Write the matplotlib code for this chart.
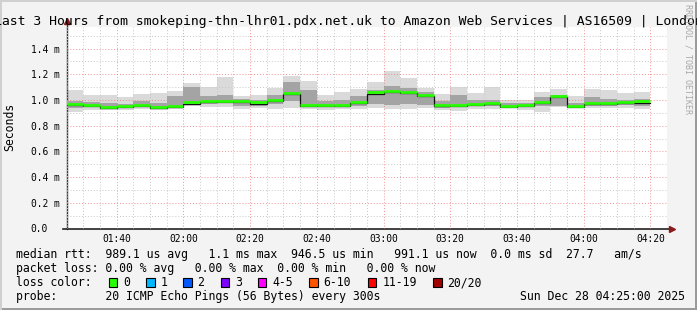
import matplotlib
matplotlib.use('Agg')
import matplotlib.pyplot as plt
import matplotlib.dates as mdates
from matplotlib.patches import Rectangle
from matplotlib.lines import Line2D
import numpy as np
import pandas as pd

# 5 minute steps starting 01:25, values in ms
median = [0.969, 0.963, 0.948, 0.956, 0.963, 0.948, 0.956, 0.982, 0.995, 0.995,
          0.993, 0.982, 1.000, 1.057, 0.963, 0.963, 0.963, 0.984, 1.060, 1.073,
          1.062, 1.040, 0.963, 0.963, 0.971, 0.976, 0.953, 0.963, 0.984, 1.034,
          0.953, 0.976, 0.976, 0.984, 0.991]
ping_min = [0.909, 0.922, 0.920, 0.920, 0.927, 0.922, 0.930, 0.953, 0.943, 0.943,
            0.927, 0.935, 0.927, 0.935, 0.927, 0.920, 0.927, 0.932, 0.935, 0.927,
            0.927, 0.935, 0.920, 0.917, 0.927, 0.932, 0.935, 0.920, 0.909, 0.948,
            0.935, 0.935, 0.935, 0.940, 0.927]
ping_lo = [0.940, 0.945, 0.935, 0.940, 0.945, 0.935, 0.945, 0.965, 0.970, 0.975,
           0.950, 0.955, 0.965, 0.990, 0.950, 0.945, 0.945, 0.955, 0.970, 0.960,
           0.965, 0.960, 0.940, 0.945, 0.950, 0.950, 0.945, 0.945, 0.950, 0.950,
           0.945, 0.950, 0.950, 0.960, 0.955]
ping_hi = [0.990, 0.985, 0.975, 0.970, 0.990, 0.975, 1.030, 1.100, 1.030, 1.040,
           1.010, 1.000, 1.040, 1.140, 1.080, 0.990, 1.000, 1.030, 1.080, 1.110,
           1.090, 1.060, 0.990, 1.040, 1.000, 1.000, 0.975, 0.980, 1.020, 1.040,
           0.975, 1.020, 1.010, 1.000, 1.010]
ping_max = [1.078, 1.039, 1.039, 1.020, 1.047, 1.054, 1.070, 1.130, 1.099, 1.177,
            1.031, 1.040, 1.090, 1.187, 1.148, 1.040, 1.062, 1.086, 1.138, 1.226,
            1.169, 1.090, 1.047, 1.104, 1.057, 1.099, 1.000, 1.000, 1.062, 1.086,
            1.031, 1.086, 1.078, 1.052, 1.060]

loss_labels = ['0', '1', '2', '3', '4-5', '6-10', '11-19', '20/20']
loss_colors = ['#26ff00', '#00b8ff', '#0059ff', '#7e00ff', '#ff00ff', '#ff5500', '#ff0000', '#a10000']

title = 'Last 3 Hours from smokeping-thn-lhr01.pdx.net.uk to Amazon Web Services | AS16509 | London'
row_rtt = 'median rtt:  989.1 us avg   1.1 ms max  946.5 us min   991.1 us now  0.0 ms sd  27.7   am/s'
row_loss = 'packet loss: 0.00 % avg   0.00 % max  0.00 % min   0.00 % now'
row_probe = 'probe:       20 ICMP Echo Pings (56 Bytes) every 300s'
stamp = 'Sun Dec 28 04:25:00 2025'

W, H = 697, 310
MONO = 'DejaVu Sans Mono'


def fx(px):
    return px / W


def fy(py):
    return 1 - py / H


fig = plt.figure(figsize=(W / 100, H / 100), dpi=100, facecolor='#f3f3f3')
ax = fig.add_axes([fx(66.7), fy(228.5), (667 - 66.7) / W, (228.5 - 27) / H])
ax.set_facecolor('white')

edges = pd.date_range('2025-12-28 01:25', periods=len(median) + 1, freq='5min')
x = mdates.date2num(edges.to_pydatetime())


def ext(v):
    return np.append(v, v[-1])


# smoke
ax.fill_between(x, ext(ping_min), ext(ping_max), step='post', color='#dadada', lw=0, zorder=2)
ax.fill_between(x, ext(ping_lo), ext(ping_hi), step='post', color='#a4a4a4', lw=0, zorder=3)

# median line: black step + green loss colour
med = np.array(median)
ax.step(x, ext(med - 0.011), where='post', color='#111111', lw=0.9, zorder=4)
ax.hlines(med, x[:-1], x[1:], color=loss_colors[0], lw=2.0, zorder=5)

ax.set_xlim(mdates.date2num(pd.Timestamp('2025-12-28 01:25')),
            mdates.date2num(pd.Timestamp('2025-12-28 04:25')))
ax.set_ylim(0, 1.568)

ax.xaxis.set_major_locator(mdates.MinuteLocator(byminute=[0, 20, 40]))
ax.xaxis.set_minor_locator(mdates.MinuteLocator(byminute=range(0, 60, 5)))
ax.xaxis.set_major_formatter(mdates.DateFormatter('%H:%M'))
yt = np.arange(0, 1.41, 0.2)
ax.set_yticks(yt)
ax.set_yticks(np.arange(0, 1.56, 0.1), minor=True)
ax.set_yticklabels(['0.0'] + ['%.1f m' % v for v in yt[1:]])

ax.tick_params(which='both', length=0)
ax.tick_params(axis='x', pad=4, labelsize=6.9)
ax.tick_params(axis='y', pad=26, labelsize=6.9)
for lab in ax.get_yticklabels():
    lab.set_horizontalalignment('left')
for lab in ax.get_xticklabels() + ax.get_yticklabels():
    lab.set_family(MONO)

ax.grid(which='minor', color='#c8c8c8', linestyle=(0, (1, 2)), lw=0.7, zorder=6)
ax.grid(which='major', color='#f07878', linestyle=(0, (1, 2)), lw=0.7, alpha=0.8, zorder=6)
ax.set_axisbelow(False)

for s in ax.spines.values():
    s.set_visible(False)

# axes with arrows (rrdtool style)
ax.add_line(Line2D([0, 0], [0, 1 + 5 / 201.5], transform=ax.transAxes, color='#333333', lw=1, clip_on=False))
ax.add_line(Line2D([-4 / 600, 1 + 3 / 600], [0, 0], transform=ax.transAxes, color='#222222', lw=1.2, clip_on=False))
ax.plot([0], [1 + 6 / 201.5], marker='^', ms=4.5, color='#8b1a1a', transform=ax.transAxes, clip_on=False)
ax.plot([1 + 5 / 600], [0], marker='>', ms=4.5, color='#8b1a1a', transform=ax.transAxes, clip_on=False)

fig.text(fx(10), fy(127), 'Seconds', rotation=90, ha='center', va='center', fontsize=8.3, family=MONO)
fig.text(fx(348.5), fy(24.5), title, ha='center', va='baseline', fontsize=9.45, family=MONO)
fig.text(fx(688), fy(4), 'RRDTOOL / TOBI OETIKER', rotation=270, ha='center', va='top',
         fontsize=6, family=MONO, color='#a8a8a8')

# legend rows
fig.text(fx(16), fy(258.3), row_rtt, ha='left', va='baseline', fontsize=8.3, family=MONO)
fig.text(fx(16), fy(272.3), row_loss, ha='left', va='baseline', fontsize=8.3, family=MONO)
fig.text(fx(16), fy(286.3), 'loss color:', ha='left', va='baseline', fontsize=8.3, family=MONO)
fig.text(fx(16), fy(300.3), row_probe, ha='left', va='baseline', fontsize=8.3, family=MONO)
fig.text(fx(685), fy(300.3), stamp, ha='right', va='baseline', fontsize=8.3, family=MONO)

box_x = [108.5, 146, 183, 220.5, 257.5, 309, 367.7, 433]
for bx, lab, col in zip(box_x, loss_labels, loss_colors):
    fig.add_artist(Rectangle((fx(bx), fy(286.5)), 8.5 / W, 8.5 / H, transform=fig.transFigure,
                             facecolor=col, edgecolor='black', lw=0.8))
    fig.text(fx(bx + 14.5), fy(286.3), lab, ha='left', va='baseline', fontsize=8.3, family=MONO)

# 3d frame
fig.add_artist(Rectangle((0, 0), 1, 2 / H, transform=fig.transFigure, color='#9b9b9b', lw=0))
fig.add_artist(Rectangle((1 - 2 / W, 0), 2 / W, 1, transform=fig.transFigure, color='#9b9b9b', lw=0))
fig.add_artist(Rectangle((0, 1 - 2 / H), 1, 2 / H, transform=fig.transFigure, color='#d0d0d0', lw=0))
fig.add_artist(Rectangle((0, 0), 2 / W, 1, transform=fig.transFigure, color='#d0d0d0', lw=0))

fig.savefig('out.png', dpi=100, facecolor=fig.get_facecolor())
plt.close(fig)
